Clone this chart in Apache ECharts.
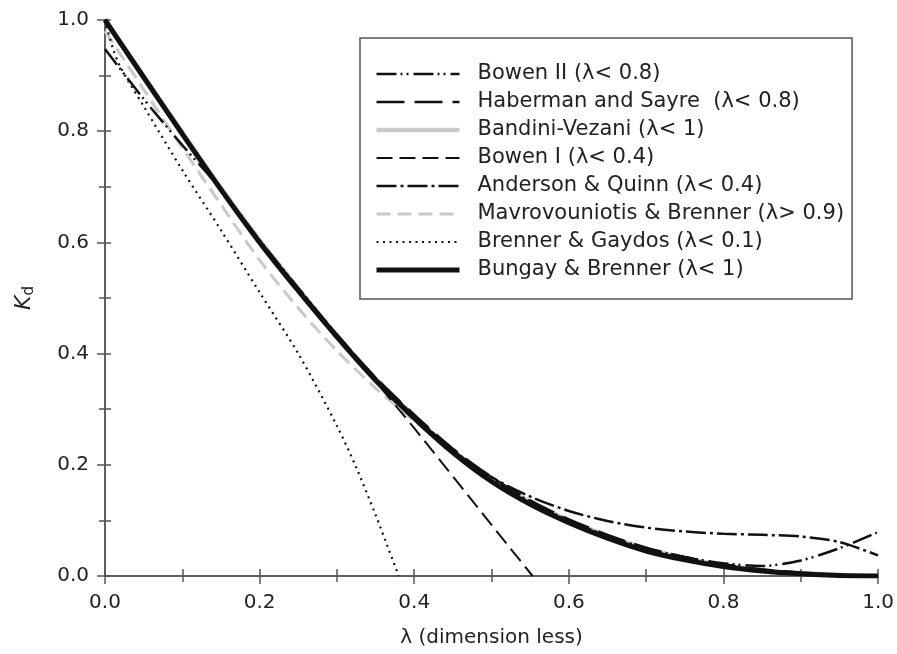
<!DOCTYPE html>
<html>
<head>
<meta charset="utf-8">
<script src="https://cdn.jsdelivr.net/npm/echarts@6/dist/echarts.min.js"></script>
<style>
html,body{margin:0;padding:0;background:#fff;}
#chart{width:897px;height:654px;}
</style>
</head>
<body>
<div id="chart"></div>
<script>
// ---- data ----
var lambdaGrid = [0,0.05,0.1,0.15,0.2,0.25,0.3,0.35,0.4,0.45,0.5,0.55,0.6,0.65,0.7,0.75,0.8,0.85,0.9,0.95,1.0];
var bowenII      = [0.948,0.858,0.775,0.695,0.604,0.518,0.434,0.356,0.288,0.227,0.176,0.134,0.100,0.072,0.050,0.034,0.023,0.018,0.028,0.050,0.079];
var haberman     = [1.0,0.899,0.797,0.697,0.603,0.517,0.434,0.357,0.290,0.229,0.178,0.136,0.102,0.074,0.051,0.034,0.021,0.012,0.006,0.002,0.0];
var bandini      = [1.0,0.899,0.798,0.698,0.604,0.517,0.433,0.355,0.287,0.225,0.174,0.133,0.100,0.072,0.049,0.032,0.019,0.010,0.005,0.002,0.0];
var andersonQuinn= [1.0,0.898,0.797,0.697,0.602,0.516,0.433,0.355,0.287,0.226,0.178,0.143,0.117,0.099,0.087,0.080,0.076,0.074,0.071,0.061,0.037];
var mavro        = [0.980,0.875,0.770,0.668,0.568,0.482,0.405,0.338,0.279,0.222,0.172,0.131,0.097,0.070,0.047,0.030,0.018,0.010,0.005,0.002,0.0];
var bungay       = [1.0,0.897,0.795,0.695,0.600,0.513,0.430,0.352,0.284,0.222,0.170,0.129,0.096,0.068,0.045,0.029,0.017,0.009,0.004,0.001,0.0];

var bowenI_x = [0,0.05,0.1,0.15,0.2,0.25,0.3,0.35,0.4,0.45,0.5,0.553];
var bowenI   = [1.0,0.898,0.796,0.696,0.601,0.515,0.431,0.350,0.266,0.179,0.092,0.0];

var gaydos_x = [0,0.01,0.02,0.05,0.1,0.15,0.2,0.25,0.3,0.325,0.35,0.365,0.38];
var gaydos   = [1.0,0.950,0.915,0.845,0.730,0.622,0.510,0.400,0.270,0.195,0.110,0.055,0.0];

var xTicks = [0,0.2,0.4,0.6,0.8,1.0];
var yTicks = [0,0.2,0.4,0.6,0.8,1.0];

var names = ['Bowen II (\u03bb< 0.8)','Haberman and Sayre  (\u03bb< 0.8)','Bandini-Vezani (\u03bb< 1)','Bowen I (\u03bb< 0.4)','Anderson & Quinn (\u03bb< 0.4)','Mavrovouniotis & Brenner (\u03bb> 0.9)','Brenner & Gaydos (\u03bb< 0.1)','Bungay & Brenner (\u03bb< 1)'];

function pairs(xs, ys){ return xs.map(function(x,i){ return [x, ys[i]]; }); }

var FONT = 'DejaVu Sans';
var BLACK = '#111';
var GRAY = '#c9c9c9';

function mk(name, xs, ys, style, z, smooth){
  return {
    name: name, type: 'line', data: pairs(xs, ys), showSymbol: false, symbol: 'none',
    smooth: smooth === undefined ? 0.3 : smooth,
    lineStyle: style, itemStyle: {color: style.color}, z: z, silent: true, animation: false,
    emphasis: {disabled: true}
  };
}

var series = [
  mk(names[2], lambdaGrid, bandini, {color: GRAY, width: 4.5, type: 'solid'}, 1),
  mk(names[5], lambdaGrid, mavro, {color: GRAY, width: 3, type: [14, 7]}, 2),
  mk(names[0], lambdaGrid, bowenII, {color: BLACK, width: 2.5, type: [20, 4, 2, 4, 2, 5]}, 3),
  mk(names[1], lambdaGrid, haberman, {color: BLACK, width: 2.5, type: [28, 10]}, 3),
  mk(names[3], bowenI_x, bowenI, {color: BLACK, width: 2, type: [16, 7]}, 3, false),
  mk(names[4], lambdaGrid, andersonQuinn, {color: BLACK, width: 2.5, type: [20, 4, 3, 4]}, 3),
  mk(names[6], gaydos_x, gaydos, {color: BLACK, width: 2.2, type: [2, 4.5]}, 3),
  mk(names[7], lambdaGrid, bungay, {color: BLACK, width: 5, type: 'solid'}, 4)
];

var axisLineStyle = {color: '#555', width: 1.5};

var option = {
  backgroundColor: '#fff',
  animation: false,
  grid: {left: 105, right: 18, top: 20, bottom: 78, containLabel: false},
  legend: {
    orient: 'vertical', left: 360, top: 38,
    padding: [25, 8, 18, 14],
    borderColor: '#555', borderWidth: 1.5,
    itemWidth: 83, itemHeight: 14, itemGap: 6,
    selectedMode: false,
    itemStyle: {opacity: 0},
    lineStyle: {width: 'inherit'},
    textStyle: {fontFamily: FONT, fontSize: 21, color: '#222', lineHeight: 22, padding: [0, 0, 0, 13]},
    data: names
  },
  xAxis: [
    {
      type: 'value', min: 0, max: 1, interval: 0.2, position: 'bottom',
      name: '\u03bb (dimension less)', nameLocation: 'middle', nameGap: 52,
      nameTextStyle: {fontFamily: FONT, fontSize: 20, color: '#222'},
      axisLine: {show: true, lineStyle: axisLineStyle},
      axisTick: {show: true, inside: false, length: 8, lineStyle: axisLineStyle},
      minorTick: {show: true, splitNumber: 2, length: 6, lineStyle: axisLineStyle},
      axisLabel: {fontFamily: FONT, fontSize: 20, color: '#222', margin: 17,
        formatter: function(v){ return xTicks.indexOf(+v.toFixed(1)) >= 0 ? v.toFixed(1) : ''; }},
      splitLine: {show: false}
    },
    {
      type: 'value', min: 0, max: 1, interval: 0.1, position: 'top',
      axisLine: {show: true, lineStyle: axisLineStyle},
      axisTick: {show: true, inside: false, length: 7, lineStyle: axisLineStyle},
      axisLabel: {show: false}, splitLine: {show: false}
    }
  ],
  yAxis: [
    {
      type: 'value', min: 0, max: 1, interval: 0.2, position: 'left',
      name: '{k|K}{d|d}', nameLocation: 'middle', nameGap: 68, nameRotate: 90,
      nameTextStyle: {
        rich: {
          k: {fontFamily: FONT, fontSize: 22, fontStyle: 'italic', color: '#222'},
          d: {fontFamily: FONT, fontSize: 15, color: '#222', padding: [10, 0, 0, 0]}
        }
      },
      axisLine: {show: true, lineStyle: axisLineStyle},
      axisTick: {show: true, inside: false, length: 8, lineStyle: axisLineStyle},
      minorTick: {show: true, splitNumber: 2, length: 6, lineStyle: axisLineStyle},
      axisLabel: {fontFamily: FONT, fontSize: 20, color: '#222', margin: 16,
        formatter: function(v){ return yTicks.indexOf(+v.toFixed(1)) >= 0 ? v.toFixed(1) : ''; }},
      splitLine: {show: false}
    },
    {
      type: 'value', min: 0, max: 1, interval: 0.1, position: 'right',
      axisLine: {show: true, lineStyle: axisLineStyle},
      axisTick: {show: true, inside: false, length: 6, lineStyle: axisLineStyle},
      axisLabel: {show: false}, splitLine: {show: false}
    }
  ],
  series: series
};

var chart = echarts.init(document.getElementById('chart'), null, {renderer: 'canvas'});
chart.setOption(option);
</script>
</body>
</html>
